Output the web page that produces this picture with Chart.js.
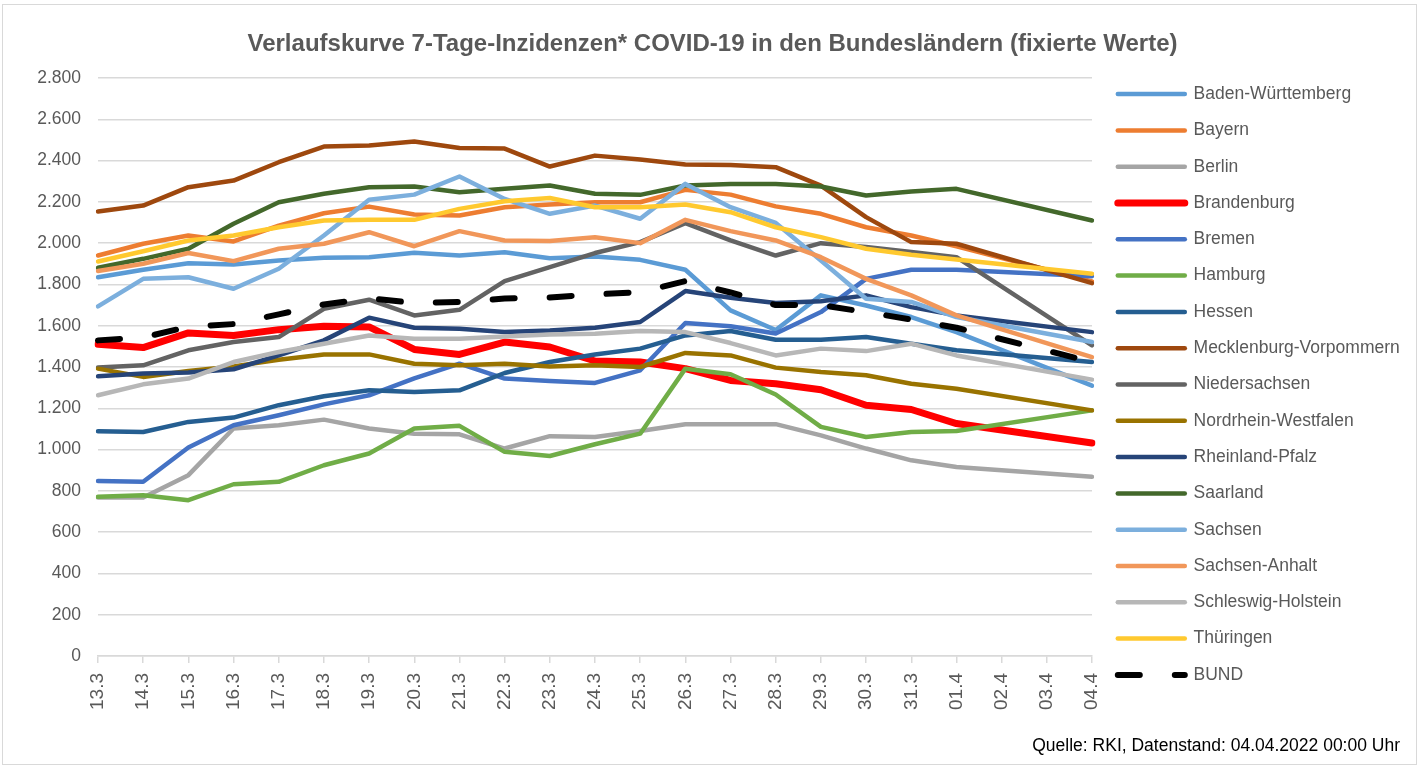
<!DOCTYPE html>
<html lang="de">
<head>
<meta charset="utf-8">
<title>Verlaufskurve 7-Tage-Inzidenzen</title>
<script src="https://cdn.jsdelivr.net/npm/chart.js@4.4.1/dist/chart.umd.min.js"></script>
<style>
  html, body { margin: 0; padding: 0; background: #fff; }
  #frame { position: absolute; left: 2px; top: 4px; width: 1415px; height: 761px; border: 1px solid #d9d9d9; box-sizing: border-box; }
  #chart { position: absolute; left: 0; top: 0; }
</style>
</head>
<body>
<div id="frame"></div>
<canvas id="chart" width="1425" height="767"></canvas>
<script>
// Tage (02.4 und 03.4 ohne Meldung -> Lücke wird überbrückt)
const days = ['13.3', '14.3', '15.3', '16.3', '17.3', '18.3', '19.3', '20.3', '21.3', '22.3', '23.3', '24.3',
  '25.3', '26.3', '27.3', '28.3', '29.3', '30.3', '31.3', '01.4', '02.4', '03.4', '04.4'];

const yTickLabels = ['0', '200', '400', '600', '800', '1.000', '1.200', '1.400', '1.600', '1.800',
  '2.000', '2.200', '2.400', '2.600', '2.800'];

const badenWuerttemberg = [1835, 1871, 1903, 1897, 1916, 1929, 1932, 1953, 1940, 1956, 1927, 1935, 1919, 1871, 1674, 1579, 1747, 1698, 1642, 1569, null, null, 1310];
const bayern = [1940, 1997, 2037, 2008, 2085, 2145, 2177, 2139, 2134, 2174, 2187, 2198, 2198, 2258, 2235, 2178, 2142, 2077, 2037, 1985, null, null, 1815];
const berlin = [768, 768, 876, 1102, 1118, 1145, 1102, 1077, 1074, 1005, 1065, 1061, 1090, 1123, 1123, 1123, 1069, 1005, 948, 916, null, null, 868];
const brandenburg = [1510, 1494, 1565, 1553, 1581, 1597, 1594, 1485, 1461, 1521, 1497, 1429, 1424, 1392, 1335, 1319, 1290, 1215, 1194, 1126, null, null, 1032];
const bremen = [848, 844, 1010, 1118, 1166, 1219, 1263, 1345, 1416, 1344, 1332, 1323, 1384, 1613, 1597, 1562, 1666, 1827, 1871, 1871, null, null, 1840];
const hamburg = [771, 779, 755, 832, 844, 924, 981, 1102, 1115, 989, 969, 1026, 1077, 1392, 1365, 1267, 1110, 1061, 1085, 1090, null, null, 1190];
const hessen = [1089, 1085, 1134, 1155, 1215, 1258, 1287, 1279, 1287, 1371, 1424, 1461, 1489, 1553, 1574, 1532, 1532, 1545, 1513, 1481, null, null, 1424];
const mecklenburgVorpommern = [2153, 2182, 2271, 2303, 2392, 2468, 2473, 2492, 2461, 2458, 2371, 2424, 2405, 2381, 2379, 2368, 2279, 2126, 2005, 1997, null, null, 1806];
const niedersachsen = [1397, 1408, 1481, 1521, 1545, 1682, 1726, 1650, 1677, 1816, 1884, 1952, 2005, 2097, 2013, 1940, 2000, 1981, 1957, 1932, null, null, 1505];
const nordrheinWestfalen = [1392, 1352, 1381, 1403, 1435, 1461, 1461, 1416, 1408, 1416, 1403, 1408, 1400, 1468, 1456, 1397, 1376, 1360, 1319, 1295, null, null, 1190];
const rheinlandPfalz = [1355, 1368, 1373, 1389, 1456, 1529, 1639, 1590, 1585, 1569, 1577, 1590, 1618, 1768, 1735, 1710, 1719, 1747, 1690, 1650, null, null, 1569];
const saarland = [1881, 1924, 1973, 2094, 2198, 2239, 2271, 2274, 2247, 2263, 2279, 2239, 2234, 2279, 2287, 2287, 2274, 2231, 2250, 2263, null, null, 2110];
const sachsen = [1694, 1827, 1835, 1779, 1876, 2037, 2210, 2235, 2323, 2214, 2142, 2182, 2118, 2287, 2174, 2098, 1916, 1731, 1715, 1642, null, null, 1521];
const sachsenAnhalt = [1865, 1900, 1952, 1913, 1973, 1997, 2053, 1985, 2058, 2013, 2010, 2029, 2000, 2113, 2058, 2013, 1932, 1827, 1747, 1650, null, null, 1448];
const schleswigHolstein = [1263, 1316, 1344, 1424, 1473, 1513, 1553, 1537, 1537, 1548, 1558, 1561, 1574, 1569, 1516, 1456, 1489, 1477, 1513, 1456, null, null, 1339];
const thueringen = [1911, 1961, 2013, 2037, 2077, 2110, 2113, 2113, 2166, 2203, 2219, 2174, 2174, 2187, 2150, 2077, 2029, 1973, 1944, 1921, null, null, 1852];
const bund = [1529, 1543, 1595, 1608, 1655, 1703, 1733, 1710, 1715, 1732, 1737, 1752, 1763, 1816, 1761, 1700, 1700, 1666, 1630, 1590, null, null, 1424];

const sans = "'Liberation Sans', Arial, sans-serif";
const grey = '#595959';

function line(label, data, color, width) {
  return {
    label: label,
    data: data,
    borderColor: color,
    backgroundColor: color,
    borderWidth: width || 4.5,
    borderCapStyle: 'round',
    borderJoinStyle: 'round',
    pointRadius: 0,
    pointHoverRadius: 0,
    tension: 0,
    spanGaps: true,
    fill: false
  };
}

const datasets = [
  line('Baden-Württemberg', badenWuerttemberg, '#5B9BD5'),
  line('Bayern', bayern, '#ED7D31'),
  line('Berlin', berlin, '#A5A5A5'),
  line('Brandenburg', brandenburg, '#FF0000', 7),
  line('Bremen', bremen, '#4472C4'),
  line('Hamburg', hamburg, '#70AD47'),
  line('Hessen', hessen, '#255E91'),
  line('Mecklenburg-Vorpommern', mecklenburgVorpommern, '#9E480E'),
  line('Niedersachsen', niedersachsen, '#636363'),
  line('Nordrhein-Westfalen', nordrheinWestfalen, '#997300'),
  line('Rheinland-Pfalz', rheinlandPfalz, '#264478'),
  line('Saarland', saarland, '#43682B'),
  line('Sachsen', sachsen, '#7CAFDD'),
  line('Sachsen-Anhalt', sachsenAnhalt, '#F1975A'),
  line('Schleswig-Holstein', schleswigHolstein, '#B7B7B7'),
  line('Thüringen', thueringen, '#FFC92F'),
  Object.assign(line('BUND', bund, '#000000', 6), { borderDash: [22, 35] })
];
// wie in Excel: spätere Reihe liegt oben
datasets.forEach((ds, i) => { ds.order = datasets.length - i; });

// Legende etwas vom Diagrammrand abrücken
const legendShift = {
  id: 'legendShift',
  afterLayout(chart) {
    chart.legend.left += 7;
    chart.legend.right += 7;
  }
};

new Chart(document.getElementById('chart'), {
  type: 'line',
  data: { labels: days, datasets: datasets },
  plugins: [legendShift],
  options: {
    responsive: false,
    animation: false,
    devicePixelRatio: 1,
    layout: { padding: { left: 25, right: 25, top: 10, bottom: 8 } },
    plugins: {
      tooltip: { enabled: false },
      title: {
        display: true,
        text: 'Verlaufskurve 7-Tage-Inzidenzen* COVID-19 in den Bundesländern (fixierte Werte)',
        color: grey,
        font: { family: sans, size: 24, weight: 'bold' },
        padding: { top: 19.6, bottom: 19.6 }
      },
      subtitle: {
        display: true,
        position: 'bottom',
        align: 'end',
        text: 'Quelle: RKI, Datenstand: 04.04.2022 00:00 Uhr',
        color: '#000000',
        font: { family: sans, size: 17.5 },
        padding: { top: 0, bottom: 2 }
      },
      legend: {
        position: 'right',
        align: 'center',
        maxWidth: 308,
        labels: {
          usePointStyle: true,
          pointStyle: 'line',
          pointStyleWidth: 67,
          padding: 18.8,
          color: grey,
          font: { family: sans, size: 17.5 },
          sort: (a, b) => a.datasetIndex - b.datasetIndex,
          // Linienstärke und Strichelung der Reihe auch in der Legende
          generateLabels(chart) {
            const items = Chart.defaults.plugins.legend.labels.generateLabels(chart);
            items.forEach((item) => {
              const ds = chart.data.datasets[item.datasetIndex];
              item.lineWidth = ds.borderWidth;
              item.lineDash = ds.borderDash || [];
              item.lineCap = 'round';
              item.strokeStyle = ds.borderColor;
            });
            return items;
          }
        }
      }
    },
    scales: {
      x: {
        afterFit(scale) { scale.height = 80; },
        grid: { drawOnChartArea: false, drawTicks: true, tickLength: 7, color: '#D9D9D9', lineWidth: 1.5 },
        border: { color: '#D9D9D9', width: 1.5 },
        ticks: {
          autoSkip: false,
          maxRotation: 90,
          minRotation: 90,
          padding: 10,
          color: grey,
          font: { family: sans, size: 19 }
        }
      },
      y: {
        min: 0,
        max: 2800,
        afterFit(scale) { scale.width = 73; },
        grid: { color: '#D9D9D9', lineWidth: 1.5, drawTicks: false },
        border: { display: false },
        ticks: {
          stepSize: 200,
          padding: 17,
          color: grey,
          font: { family: sans, size: 17.5 },
          callback: (value, index) => yTickLabels[index]
        }
      }
    }
  }
});
</script>
</body>
</html>
